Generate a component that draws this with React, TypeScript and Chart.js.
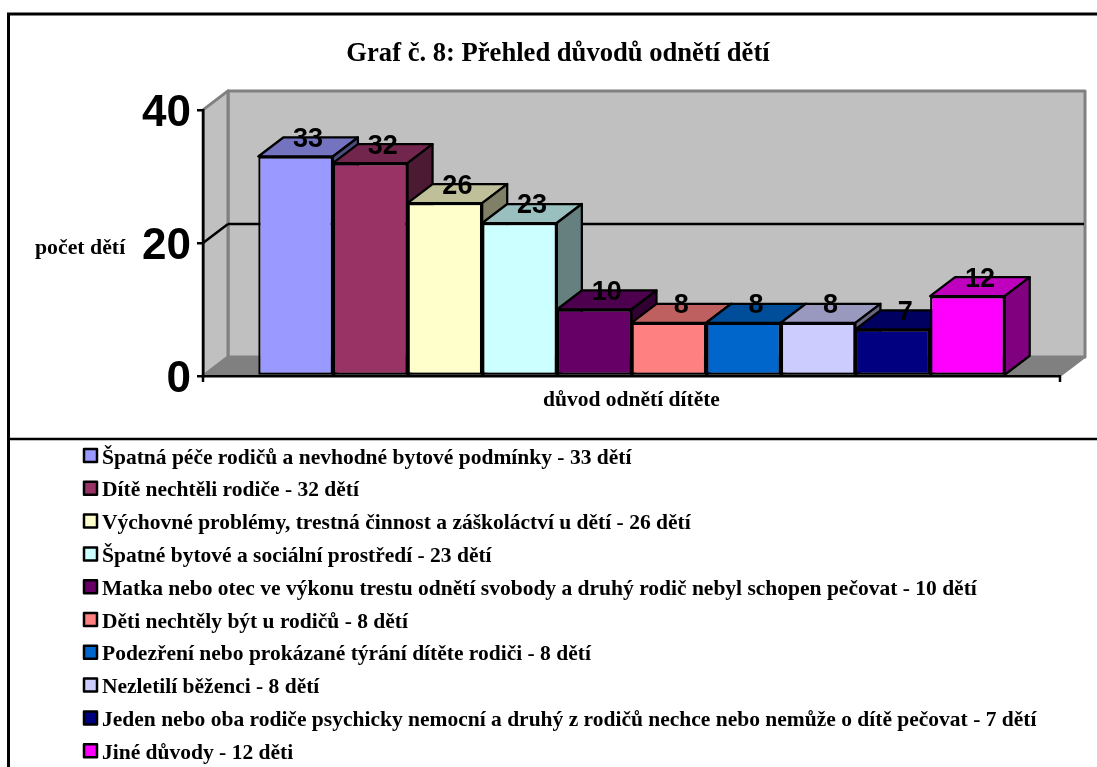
import React, { useEffect, useRef } from "react";
import { Chart, registerables } from "chart.js";

Chart.register(...registerables);

const CHART_TITLE = "Graf č. 8: Přehled důvodů odnětí dětí";
const X_TITLE = "důvod odnětí dítěte";
const Y_TITLE = "počet dětí";
const CATEGORIES = [""];
const SERIES_NAMES = [
  "Špatná péče rodičů a nevhodné bytové podmínky - 33 dětí",
  "Dítě nechtěli rodiče - 32 dětí",
  "Výchovné problémy, trestná činnost a záškoláctví u dětí - 26 dětí",
  "Špatné bytové a sociální prostředí - 23 dětí",
  "Matka nebo otec ve výkonu trestu odnětí svobody a druhý rodič nebyl schopen pečovat - 10 dětí",
  "Děti nechtěly být u rodičů - 8 dětí",
  "Podezření nebo prokázané týrání dítěte rodiči - 8 dětí",
  "Nezletilí běženci - 8 dětí",
  "Jeden nebo oba rodiče psychicky nemocní a druhý z rodičů nechce nebo nemůže o dítě pečovat - 7 dětí",
  "Jiné důvody - 12 děti",
];
const SERIES_VALUES = [33, 32, 26, 23, 10, 8, 8, 8, 7, 12];
const SERIES_COLORS = ["#9999FF", "#993366", "#FFFFCC", "#CCFFFF", "#660066", "#FF8080", "#0066CC", "#CCCCFF", "#000080", "#FF00FF"];
const Y_TICKS = [0, 20, 40];

const SERIF = '"Liberation Serif", serif';
const SANS = '"Liberation Sans", sans-serif';
const DEPTH_X = 25;
const DEPTH_Y = -19;

function shade(hex: string, f: number) {
  const n = parseInt(hex.slice(1), 16);
  const r = Math.round(((n >> 16) & 255) * f);
  const g = Math.round(((n >> 8) & 255) * f);
  const b = Math.round((n & 255) * f);
  return `rgb(${r},${g},${b})`;
}

function poly(ctx: CanvasRenderingContext2D, pts: number[][], fill: string | null, stroke: string | null, lw = 2.25) {
  ctx.beginPath();
  pts.forEach((p, i) => (i ? ctx.lineTo(p[0], p[1]) : ctx.moveTo(p[0], p[1])));
  ctx.closePath();
  if (fill) {
    ctx.fillStyle = fill;
    ctx.fill();
  }
  if (stroke) {
    ctx.strokeStyle = stroke;
    ctx.lineWidth = lw;
    ctx.lineJoin = "round";
    ctx.stroke();
  }
}

function segment(ctx: CanvasRenderingContext2D, x1: number, y1: number, x2: number, y2: number, color: string, lw = 2.5) {
  ctx.beginPath();
  ctx.moveTo(x1, y1);
  ctx.lineTo(x2, y2);
  ctx.strokeStyle = color;
  ctx.lineWidth = lw;
  ctx.stroke();
}

const scene3d = {
  id: "scene3d",
  beforeDraw(chart: any) {
    const { ctx, chartArea: a, scales } = chart;
    const y = scales.y;
    const top = a.top;
    const bottom = a.bottom;
    ctx.save();
    ctx.fillStyle = "#fff";
    ctx.fillRect(0, 0, chart.width, chart.height);
    // page frame
    segment(ctx, 7, 14, 1097, 14, "#000", 3);
    segment(ctx, 8.5, 13, 8.5, 767, "#000", 3);
    segment(ctx, 8, 439, 1097, 439, "#000", 2.5);
    // walls
    const bx = DEPTH_X, by = DEPTH_Y;
    poly(ctx, [[a.left + bx, top + by], [a.right + bx, top + by], [a.right + bx, bottom + by], [a.left + bx, bottom + by]], "#C0C0C0", "#808080", 3);
    poly(ctx, [[a.left, top], [a.left + bx, top + by], [a.left + bx, bottom + by], [a.left, bottom]], "#C0C0C0", "#808080", 3);
    poly(ctx, [[a.left, bottom], [a.left + bx, bottom + by], [a.right + bx, bottom + by], [a.right, bottom]], "#808080", "#808080", 2);
    // gridlines on the walls
    Y_TICKS.filter((t) => t > 0 && t < 40).forEach((t) => {
      const p = y.getPixelForValue(t);
      segment(ctx, a.left, p, a.left + bx, p + by, "#000");
      segment(ctx, a.left + bx, p + by, a.right + bx - 1, p + by, "#000");
    });
    // category ticks at both ends
    segment(ctx, a.right, bottom, a.right, bottom + 6, "#000");
    segment(ctx, a.left, bottom, a.left, bottom + 6, "#000");
    ctx.restore();
  },
  beforeDatasetDraw() {
    return false;
  },
  afterDatasetsDraw(chart: any) {
    const { ctx } = chart;
    ctx.save();
    chart.data.datasets.forEach((ds: any, i: number) => {
      const el = chart.getDatasetMeta(i).data[0];
      const { x, y, base, width } = el.getProps(["x", "y", "base", "width"], true);
      const l = x - width / 2;
      const r = x + width / 2;
      const dx = DEPTH_X, dy = DEPTH_Y;
      poly(ctx, [[l, y], [l + dx, y + dy], [r + dx, y + dy], [r, y]], shade(ds.backgroundColor, 0.75), "#000");
      poly(ctx, [[r, y], [r + dx, y + dy], [r + dx, base + dy], [r, base]], shade(ds.backgroundColor, 0.5), "#000");
      el.draw(ctx);
    });
    ctx.fillStyle = "#000";
    ctx.font = `bold 27px ${SANS}`;
    ctx.textAlign = "center";
    ctx.textBaseline = "middle";
    chart.data.datasets.forEach((ds: any, i: number) => {
      const el = chart.getDatasetMeta(i).data[0];
      const { x, y } = el.getProps(["x", "y"], true);
      ctx.fillText(String(ds.data[0]), x + DEPTH_X / 2, y + DEPTH_Y + 2);
    });
    ctx.restore();
  },
  afterDraw(chart: any) {
    const { ctx, scales } = chart;
    ctx.save();
    ctx.fillStyle = "#000";
    ctx.textBaseline = "alphabetic";
    ctx.textAlign = "left";
    ctx.font = `bold 21.8px ${SERIF}`;
    ctx.fillText(Y_TITLE, 35, scales.y.getPixelForValue(20) + 11);
    ctx.font = `bold 21.5px ${SERIF}`;
    chart.data.datasets.forEach((ds: any, i: number) => {
      const cy = 455.5 + i * 32.8;
      ctx.fillStyle = ds.backgroundColor;
      ctx.strokeStyle = "#000";
      ctx.lineWidth = 2.5;
      ctx.lineJoin = "round";
      ctx.fillRect(84, cy - 6.5, 13, 13);
      ctx.strokeRect(84, cy - 6.5, 13, 13);
      ctx.fillStyle = "#000";
      ctx.fillText(ds.label, 102, cy + 8);
    });
    ctx.restore();
  },
};

export default function App() {
  const ref = useRef<HTMLCanvasElement>(null);
  useEffect(() => {
    document.documentElement.style.overflow = "hidden";
    const chart = new Chart(ref.current as HTMLCanvasElement, {
      type: "bar",
      data: {
        labels: CATEGORIES,
        datasets: SERIES_NAMES.map((label, i) => ({
          label,
          data: [SERIES_VALUES[i]],
          backgroundColor: SERIES_COLORS[i],
          borderColor: "#000",
          borderWidth: 2.25,
          borderSkipped: false,
          categoryPercentage: 0.871,
          barPercentage: 1,
        })),
      },
      options: {
        responsive: false,
        animation: false,
        layout: { padding: { left: 56, right: 37, top: 0, bottom: 354 } },
        plugins: {
          legend: { display: false },
          tooltip: { enabled: false },
          title: {
            display: true,
            text: CHART_TITLE,
            color: "#000",
            font: { family: SERIF, size: 26.6, weight: "bold" },
            padding: { top: 38, bottom: 40 },
          },
        },
        scales: {
          x: {
            grid: { display: false, drawTicks: false },
            border: { color: "#000", width: 2.5 },
            ticks: { display: false },
            title: {
              display: true,
              text: X_TITLE,
              color: "#000",
              font: { family: SERIF, size: 21.5, weight: "bold" },
              padding: { top: 0, bottom: 0 },
            },
            afterFit: (s: any) => {
              s.height = 37;
            },
          },
          y: {
            min: 0,
            max: 40,
            afterBuildTicks: (s: any) => {
              s.ticks = Y_TICKS.map((value) => ({ value }));
            },
            grid: { drawOnChartArea: false, drawTicks: true, tickLength: 6, color: "#000", lineWidth: 2.5 },
            border: { color: "#000", width: 2.5 },
            ticks: {
              color: "#000",
              font: { family: SANS, size: 44, weight: "bold" },
              padding: 6,
              labelOffset: 3.5,
            },
            afterFit: (s: any) => {
              s.width = 147;
            },
          },
        },
      } as any,
      plugins: [scene3d],
    });
    return () => chart.destroy();
  }, []);
  return (
    <div style={{ position: "absolute", left: 0, top: 0, width: 1097, height: 767, overflow: "hidden" }}>
      <canvas ref={ref} width={1097} height={767} style={{ display: "block" }} />
    </div>
  );
}
